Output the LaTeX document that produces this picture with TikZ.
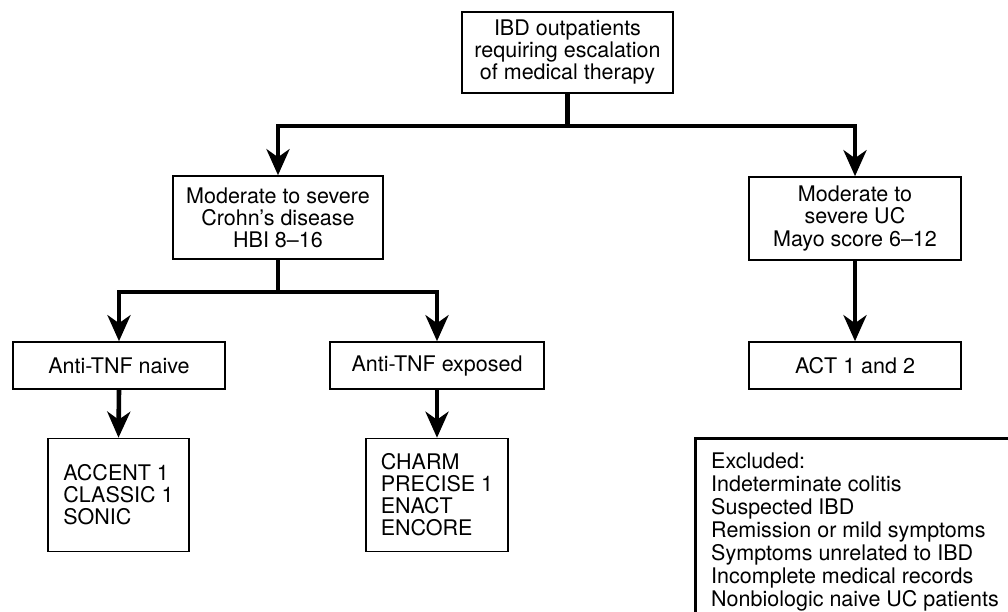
\documentclass[tikz,border=0pt]{standalone}
\usepackage{fontspec}
\setmainfont{TeX Gyre Heros}
\usetikzlibrary{arrows.meta}
\tikzset{
  box/.style={draw, line width=1.6pt, rectangle, inner sep=0pt, align=center,
    font=\fontsize{21.5}{22}\selectfont},
  listbox/.style={box, align=left},
  exbox/.style={draw, line width=3pt, rectangle, inner sep=0pt},
  extext/.style={inner sep=0pt, align=left, font=\fontsize{21.5}{23}\selectfont},
  conn/.style={line width=4.6pt},
  arr/.style={line width=4.6pt, -{Stealth[length=26pt, width=23pt, inset=8pt]}},
}
\begin{document}
\begin{tikzpicture}[x=1pt,y=-1pt]
\useasboundingbox (0,0) rectangle (1008,611);
\clip (0,0) rectangle (1008,611);
\node[box, minimum width=211pt, minimum height=81pt] (top) at (567.5,52.5)
  {IBD outpatients\\requiring escalation\\of medical therapy};
\node[box, minimum width=210pt, minimum height=83pt] (crohn) at (278,217.5)
  {Moderate to severe\\Crohn’s disease\\HBI 8–16};
\node[box, minimum width=212pt, minimum height=83pt] (uc) at (855,218.5)
  {Moderate to\\severe UC\\Mayo score 6–12};
\node[box, minimum width=212pt, minimum height=47pt] (naive) at (119,365.5) {Anti-TNF naive};
\node[box, minimum width=214pt, minimum height=47pt] (exposed) at (437,365.5) {Anti-TNF exposed};
\node[box, minimum width=212pt, minimum height=47pt] (act) at (855,365.5) {ACT 1 and 2};
\node[listbox, minimum width=141pt, minimum height=113pt] (accent) at (118.5,495)
  {ACCENT 1\\CLASSIC 1\\SONIC};
\node[listbox, minimum width=142pt, minimum height=113pt] (charm) at (437,495)
  {CHARM\\PRECISE 1\\ENACT\\ENCORE};
\node[exbox, anchor=north west, minimum width=340pt, minimum height=200pt] (excl) at (694,437) {};
\node[extext, anchor=north west] (excltext) at (711,452.5)
  {Excluded:\\Indeterminate colitis\\Suspected IBD\\Remission or mild symptoms\\Symptoms unrelated to IBD\\Incomplete medical records\\Nonbiologic naive UC patients};
\coordinate (j1) at (567.5,126);
\coordinate (j2) at (278,292);
\draw[conn] (top.south) -- (j1);
\draw[arr] (j1) -| (crohn.north);
\draw[arr] (j1) -| (uc.north);
\draw[conn] (crohn.south) -- (j2);
\draw[arr] (j2) -| (naive.north);
\draw[arr] (j2) -| (exposed.north);
\draw[arr] (uc.south) -- (act.north);
\draw[arr] (naive.south) -- (accent.north);
\draw[arr] (exposed.south) -- (charm.north);
\end{tikzpicture}
\end{document}
